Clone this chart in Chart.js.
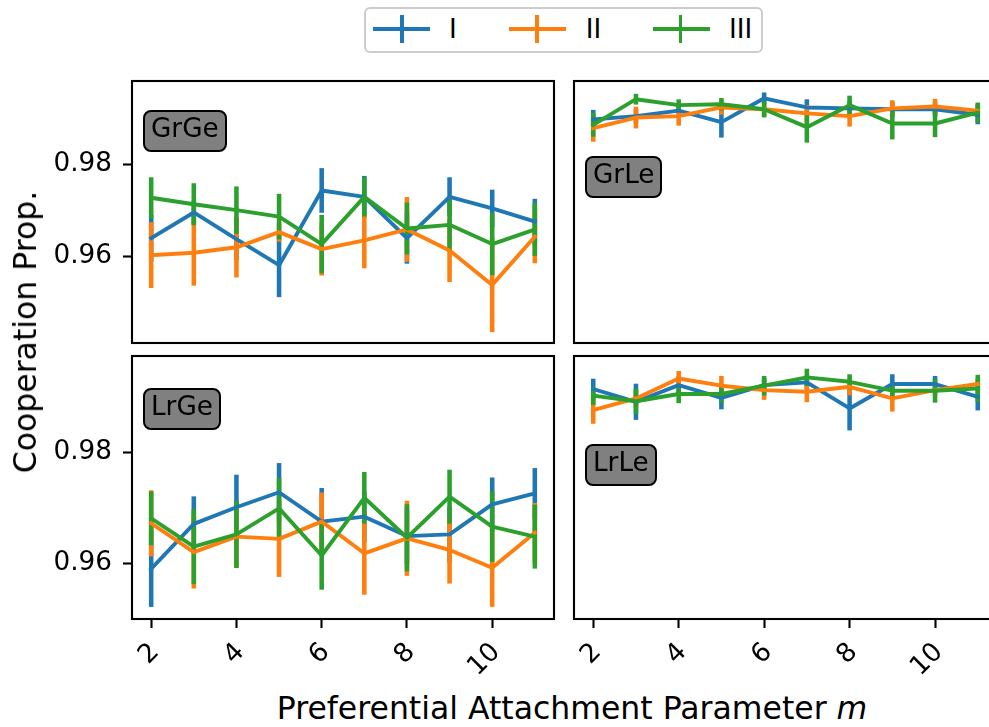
<!DOCTYPE html>
<html>
<head>
<meta charset="utf-8">
<script src="https://cdn.jsdelivr.net/npm/chart.js@4.4.1/dist/chart.umd.min.js"></script>
<style>
html,body{margin:0;padding:0;width:989px;height:727px;overflow:hidden;background:#fff;font-family:"DejaVu Sans",sans-serif;color:#000;}
canvas{position:absolute;}
.abs{position:absolute;}
.ann{position:absolute;background:#808080;border:2.5px solid #000;border-radius:8px;box-sizing:border-box;height:42px;line-height:33px;padding:0 6px;font-size:26.25px;white-space:nowrap;}
.lgtext{position:absolute;font-size:26.25px;line-height:30px;white-space:nowrap;}
</style>
</head>
<body>
<canvas id="cGrGe" width="560" height="285" style="left:0px;top:70px"></canvas>
<canvas id="cGrLe" width="440" height="285" style="left:564px;top:70px"></canvas>
<canvas id="cLrGe" width="560" height="345" style="left:0px;top:345px"></canvas>
<canvas id="cLrLe" width="440" height="345" style="left:564px;top:345px"></canvas>

<div class="ann" style="left:143px;top:110px">GrGe</div>
<div class="ann" style="left:585px;top:156px">GrLe</div>
<div class="ann" style="left:143px;top:388px">LrGe</div>
<div class="ann" style="left:585px;top:444px">LrLe</div>

<div id="legend" class="abs" style="left:364px;top:7px;width:399px;height:46px;border:2px solid #cccccc;border-radius:6px;box-sizing:border-box;background:rgba(255,255,255,0.8)"></div>

<div class="abs" style="left:25px;top:332px;transform:translate(-50%,-50%) rotate(-90deg);font-size:31.5px;line-height:36px;white-space:nowrap;">Cooperation Prop.</div>
<div class="abs" style="left:272px;top:690px;width:600px;text-align:center;font-size:31.5px;line-height:36px;white-space:nowrap;">Preferential Attachment Parameter <i>m</i></div>

<script>
// ---------- data ----------
const mValues = [2, 3, 4, 5, 6, 7, 8, 9, 10, 11];
const xTickValues = [2, 4, 6, 8, 10];
const yTickValues = [0.96, 0.98];
const seriesNames = ['I', 'II', 'III'];
const seriesColors = ['#1f77b4', '#ff7f0e', '#2ca02c'];

// GrGe
const grgeI      = [0.9639, 0.9695, 0.9637, 0.9580, 0.9743, 0.9729, 0.9639, 0.9729, 0.9704, 0.9675];
const grgeIErr   = [0.0050, 0.0025, 0.0045, 0.0069, 0.0048, 0.0045, 0.0055, 0.0042, 0.0040, 0.0049];
const grgeII     = [0.9602, 0.9607, 0.9619, 0.9652, 0.9615, 0.9634, 0.9658, 0.9612, 0.9537, 0.9642];
const grgeIIErr  = [0.0071, 0.0071, 0.0065, 0.0020, 0.0057, 0.0060, 0.0070, 0.0068, 0.0102, 0.0057];
const grgeIII    = [0.9727, 0.9713, 0.9700, 0.9686, 0.9626, 0.9729, 0.9660, 0.9668, 0.9626, 0.9658];
const grgeIIIErr = [0.0044, 0.0045, 0.0051, 0.0049, 0.0063, 0.0042, 0.0056, 0.0055, 0.0067, 0.0057];

// GrLe
const grleI      = [0.9898, 0.9905, 0.9917, 0.9892, 0.9944, 0.9924, 0.9922, 0.9920, 0.9920, 0.9908];
const grleIErr   = [0.0020, 0.0015, 0.0015, 0.0033, 0.0012, 0.0017, 0.0015, 0.0015, 0.0015, 0.0020];
const grleII     = [0.9879, 0.9902, 0.9905, 0.9924, 0.9920, 0.9911, 0.9905, 0.9922, 0.9926, 0.9917];
const grleIIErr  = [0.0029, 0.0023, 0.0020, 0.0015, 0.0015, 0.0018, 0.0022, 0.0017, 0.0016, 0.0014];
const grleIII    = [0.9886, 0.9942, 0.9929, 0.9931, 0.9920, 0.9881, 0.9929, 0.9889, 0.9889, 0.9913];
const grleIIIErr = [0.0025, 0.0011, 0.0012, 0.0013, 0.0017, 0.0033, 0.0020, 0.0034, 0.0029, 0.0021];

// LrGe
const lrgeI      = [0.9590, 0.9671, 0.9701, 0.9728, 0.9675, 0.9684, 0.9649, 0.9652, 0.9706, 0.9726];
const lrgeIErr   = [0.0068, 0.0049, 0.0058, 0.0052, 0.0060, 0.0045, 0.0050, 0.0050, 0.0048, 0.0045];
const lrgeII     = [0.9672, 0.9620, 0.9648, 0.9644, 0.9675, 0.9618, 0.9645, 0.9624, 0.9592, 0.9655];
const lrgeIIErr  = [0.0059, 0.0065, 0.0055, 0.0068, 0.0052, 0.0074, 0.0067, 0.0060, 0.0070, 0.0053];
const lrgeIII    = [0.9681, 0.9630, 0.9652, 0.9699, 0.9614, 0.9718, 0.9646, 0.9720, 0.9666, 0.9648];
const lrgeIIIErr = [0.0048, 0.0067, 0.0060, 0.0054, 0.0061, 0.0046, 0.0060, 0.0048, 0.0063, 0.0057];

// LrLe
const lrleI      = [0.9914, 0.9891, 0.9921, 0.9898, 0.9921, 0.9926, 0.9879, 0.9923, 0.9923, 0.9900];
const lrleIErr   = [0.0018, 0.0032, 0.0015, 0.0020, 0.0012, 0.0012, 0.0039, 0.0017, 0.0014, 0.0024];
const lrleII     = [0.9876, 0.9897, 0.9933, 0.9920, 0.9912, 0.9909, 0.9918, 0.9897, 0.9912, 0.9923];
const lrleIIErr  = [0.0024, 0.0015, 0.0013, 0.0017, 0.0017, 0.0018, 0.0015, 0.0023, 0.0010, 0.0010];
const lrleIII    = [0.9902, 0.9892, 0.9905, 0.9905, 0.9920, 0.9935, 0.9927, 0.9911, 0.9911, 0.9915];
const lrleIIIErr = [0.0016, 0.0022, 0.0016, 0.0015, 0.0017, 0.0015, 0.0013, 0.0014, 0.0021, 0.0024];

// axis limits
const xRange = [1.55, 11.45];
const topRowYRange = [0.94103, 0.99817];
const bottomRowYRange = [0.94996, 0.99735];

// ---------- drawing ----------
const FONT = '"DejaVu Sans", sans-serif';
const LW = 3.9;

const framePlugin = {
  id: 'frame',
  afterDraw(chart) {
    const {ctx, chartArea: a} = chart;
    ctx.save();
    ctx.strokeStyle = '#000';
    ctx.lineWidth = 2.1;
    ctx.strokeRect(a.left, a.top, a.right - a.left, a.bottom - a.top);
    ctx.restore();
  }
};

function zeroPad(sc) {
  sc.paddingTop = 0; sc.paddingBottom = 0; sc.paddingLeft = 0; sc.paddingRight = 0;
}

function makePanel(canvasId, means, errs, yRange, showX, showY, pad) {
  const datasets = [];
  means.forEach((vals, s) => {
    datasets.push({
      type: 'line', label: seriesNames[s],
      data: mValues.map((m, i) => ({x: m, y: vals[i]})),
      borderColor: seriesColors[s], backgroundColor: seriesColors[s],
      borderWidth: LW, pointRadius: 0, pointHoverRadius: 0, tension: 0, fill: false,
      borderJoinStyle: 'round', borderCapStyle: 'square', order: 2 - s
    });
    datasets.push({
      type: 'bar', label: seriesNames[s] + ' error',
      data: mValues.map((m, i) => ({x: m, y: [vals[i] - errs[s][i], vals[i] + errs[s][i]]})),
      backgroundColor: seriesColors[s], borderWidth: 0, barThickness: LW,
      grouped: false, order: 5 - s
    });
  });

  const xScale = {
    type: 'linear', min: xRange[0], max: xRange[1], display: showX, offset: false,
    afterBuildTicks: sc => { sc.ticks = xTickValues.map(v => ({value: v})); },
    ticks: {color: '#000', font: {family: FONT, size: 26.25}, minRotation: 45, maxRotation: 45,
            autoSkip: false, padding: 9, labelOffset: 4, callback: v => String(v)},
    grid: {display: true, offset: false, drawOnChartArea: false, drawTicks: true, tickLength: 9, tickWidth: 2.1, tickColor: '#000'},
    border: {display: false},
    afterFit: sc => { if (showX) sc.height = 71; zeroPad(sc); }
  };

  const yScale = {
    type: 'linear', min: yRange[0], max: yRange[1], display: showY, beginAtZero: false,
    afterBuildTicks: sc => { sc.ticks = yTickValues.map(v => ({value: v})); },
    ticks: {color: '#000', font: {family: FONT, size: 26.25}, padding: 11, callback: v => v.toFixed(2)},
    grid: {display: true, offset: false, drawOnChartArea: false, drawTicks: true, tickLength: 9, tickWidth: 2.1, tickColor: '#000'},
    border: {display: false},
    afterFit: sc => { if (showY) sc.width = 132; zeroPad(sc); }
  };

  new Chart(document.getElementById(canvasId), {
    type: 'line',
    data: {datasets},
    options: {
      responsive: false, animation: false, devicePixelRatio: 1,
      layout: {padding: pad},
      plugins: {legend: {display: false}, tooltip: {enabled: false}},
      events: [],
      scales: {x: xScale, y: yScale}
    },
    plugins: [framePlugin]
  });
}

makePanel('cGrGe', [grgeI, grgeII, grgeIII], [grgeIErr, grgeIIErr, grgeIIIErr], topRowYRange, false, true,
  {left: 0, top: 11, right: 6, bottom: 12});
makePanel('cGrLe', [grleI, grleII, grleIII], [grleIErr, grleIIErr, grleIIIErr], topRowYRange, false, false,
  {left: 10, top: 11, right: 7, bottom: 12});
makePanel('cLrGe', [lrgeI, lrgeII, lrgeIII], [lrgeIErr, lrgeIIErr, lrgeIIIErr], bottomRowYRange, true, true,
  {left: 0, top: 11, right: 6, bottom: 0});
makePanel('cLrLe', [lrleI, lrleII, lrleIII], [lrleIErr, lrleIIErr, lrleIIIErr], bottomRowYRange, true, false,
  {left: 10, top: 11, right: 7, bottom: 0});

// ---------- legend (HTML) ----------
const legend = [
  {hx: 373.0, vx: 401.7, tx: 449.0},
  {hx: 509.0, vx: 537.2, tx: 585.8},
  {hx: 652.7, vx: 680.5, tx: 729.0}
];
legend.forEach((p, s) => {
  const h = document.createElement('div');
  h.className = 'abs';
  h.style.cssText = `left:${p.hx}px;top:${29.2 - LW / 2}px;width:57px;height:${LW}px;background:${seriesColors[s]}`;
  document.body.appendChild(h);
  const v = document.createElement('div');
  v.className = 'abs';
  v.style.cssText = `left:${p.vx - LW / 2}px;top:15px;width:${LW}px;height:27.7px;background:${seriesColors[s]}`;
  document.body.appendChild(v);
  const t = document.createElement('div');
  t.className = 'lgtext';
  t.style.cssText = `left:${p.tx}px;top:14.2px`;
  t.textContent = seriesNames[s];
  document.body.appendChild(t);
});
</script>
</body>
</html>
